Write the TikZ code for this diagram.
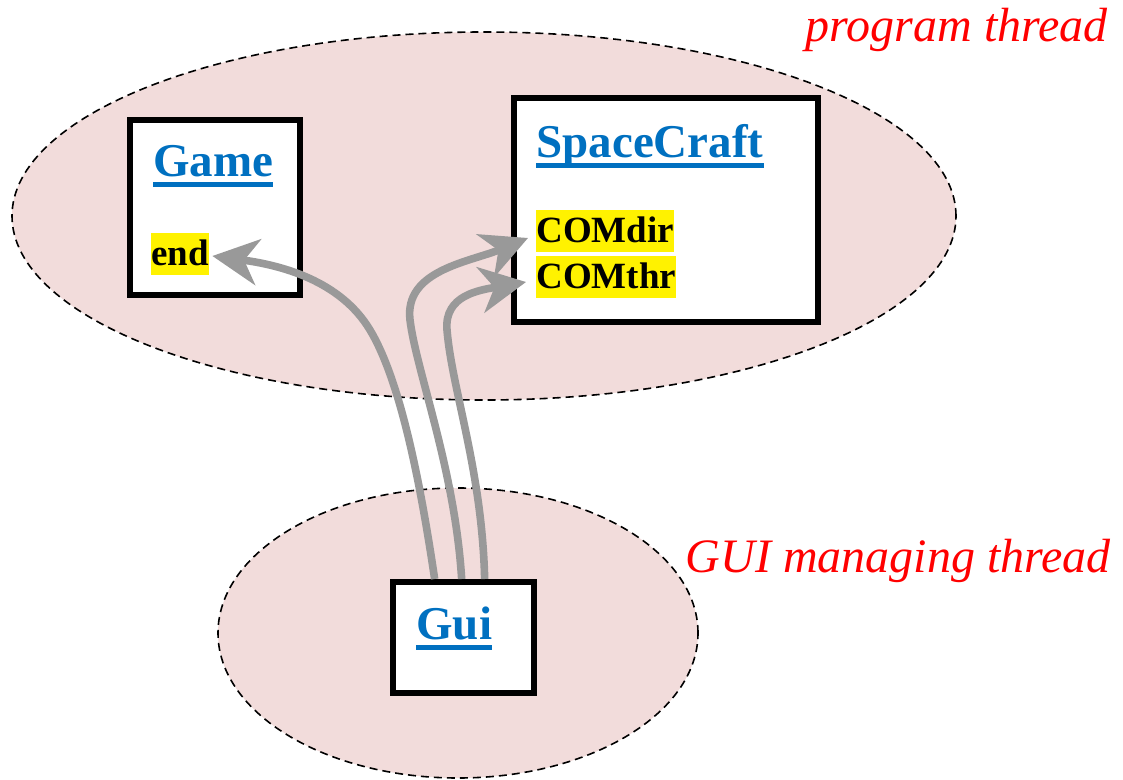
\documentclass[tikz,border=0pt]{standalone}
\usepackage{fontspec}
\setmainfont{Liberation Serif}
\usetikzlibrary{shapes.geometric,arrows.meta,calc}
\definecolor{pinkfill}{RGB}{242,220,219}
\definecolor{ulblue}{RGB}{0,112,192}
\definecolor{arrgray}{RGB}{153,153,153}
\newcommand\ulword[1]{\setbox0\hbox{#1}\rlap{\copy0}\rule[-5.25pt]{\wd0}{2.5pt}}
\begin{document}
\begin{tikzpicture}[x=0.5pt,y=-0.5pt,
  thread/.style={ellipse, draw, dash pattern=on 4pt off 2.5pt, line width=0.8pt, fill=pinkfill, inner sep=0},
  classbox/.style={draw, line width=3pt, fill=white, inner sep=0},
  title/.style={anchor=base west, inner sep=0, text=ulblue, font=\fontsize{23.5}{28}\selectfont\bfseries},
  field/.style={anchor=base west, inner sep=0, fill=yellow, text height=16.5pt, text depth=4.5pt, font=\fontsize{18.5}{22}\selectfont\bfseries},
  threadlabel/.style={anchor=base east, inner sep=0, text=red, font=\fontsize{24}{29}\selectfont\itshape},
  link/.style={draw=arrgray, line width=3.8pt, -{Stealth[length=23pt,width=23pt,inset=7pt]}}]
\useasboundingbox (0,0) rectangle (1123,780);
% thread regions
\node[thread, minimum width=472pt, minimum height=184pt] (progthread) at (484,216) {};
\node[thread, minimum width=240pt, minimum height=145pt] (guithread) at (458,633) {};
% class boxes
\node[classbox, minimum width=85pt, minimum height=87.75pt] (game) at (215,207.75) {};
\node[classbox, minimum width=152.15pt, minimum height=112pt] (spacecraft) at (665.85,210) {};
\node[classbox, minimum width=70.35pt, minimum height=55.5pt] (gui) at (463.65,637.5) {};
% titles
\node[title] (gametitle) at (153,177) {\ulword{Game}};
\node[title] (sctitle) at (536,158) {\ulword{SpaceCraft}};
\node[title] (guititle) at (416,639) {\ulword{Gui}};
% fields
\node[field] (endn) at (151,266) {end};
\node[field] (comdir) at (536,243) {COMdir};
\node[field] (comthr) at (536,289) {COMthr};
% labels
\node[threadlabel] (proglabel) at (1108,42) {program thread};
\node[threadlabel] (guilabel) at (1111,572) {GUI managing thread};
% links
\draw[link] ($(gui.north)+(-29,0)$) .. controls (420,480) and (400,380) .. (370,330)
   .. controls (340,280) and (280,265) .. ($(endn.east)+(3,2)$);
\draw[link] ($(gui.north)+(-2,0)$) .. controls (455,470) and (416,370) .. (410,320)
   .. controls (404,270) and (470,262) .. ($(comdir.west)+(-8,7)$);
\draw[link] ($(gui.north)+(21,0)$) .. controls (482,470) and (452,390) .. (447,330)
   .. controls (444,295) and (480,290) .. ($(comthr.west)+(-10,5)$);
\end{tikzpicture}
\end{document}
